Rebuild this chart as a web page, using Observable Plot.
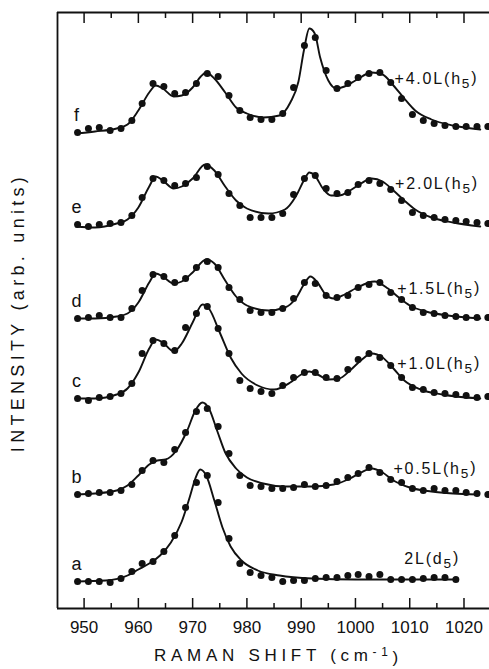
<!DOCTYPE html>
<html><head><meta charset="utf-8">
<script src="https://cdn.jsdelivr.net/npm/d3@7"></script>
<script src="https://cdn.jsdelivr.net/npm/@observablehq/plot@0.6"></script>
<style>html,body{margin:0;padding:0;background:#fff} svg{display:block}</style>
</head><body><div id="chart"></div>
<script>
// ---- data (intensity in arbitrary units, traces stacked) ----
const traces = ["a", "b", "c", "d", "e", "f"];

// measured-point positions (cm^-1), shared by all spectra
const dotX = [948.8, 950.8, 952.8, 954.8, 956.8, 958.8, 960.7, 962.7, 964.7, 966.7,
  968.7, 970.7, 972.7, 974.7, 976.7, 978.7, 980.6, 982.6, 984.6, 986.6,
  988.6, 990.6, 992.6, 994.6, 996.6, 998.6, 1000.5, 1002.5, 1004.5, 1006.5,
  1008.5, 1010.5, 1012.5, 1014.5, 1016.5, 1018.5, 1020.4, 1022.4, 1024.4];

const dotsA = [27, 27, 27, 26, 30, 37, 45, 47, 57, 73, 101, 126, 133, 106, 70, 45, 36, 33, 31, 27,
  28, 28, 30, 31, 31, 33, 34, 32, 34, 29, 29, 29, 30, 31, 31, 29];
const dotsB = [114, 115, 116, 116, 118, 124, 138, 148, 146, 159, 176, 197, 200, 182, 155, 133, 123, 122, 120, 120,
  121, 124, 122, 123, 127, 131, 135, 141, 136, 129, 126, 120, 118, 120, 118, 118, 116, 115, 114];
const dotsC = [210, 208, 211, 212, 215, 225, 255, 268, 265, 258, 281, 295, 302, 280, 255, 228, 220, 217, 215, 223,
  231, 236, 236, 231, 230, 239, 249, 255, 251, 243, 231, 221, 219, 216, 215, 214, 213, 211, 212];
const dotsD = [290, 291, 293, 291, 291, 300, 318, 334, 332, 326, 330, 341, 347, 341, 321, 309, 298, 296, 296, 300,
  310, 326, 325, 313, 311, 313, 321, 324, 326, 316, 309, 301, 296, 295, 293, 292, 291, 291, 291];
const dotsE = [384, 382, 384, 385, 386, 393, 411, 430, 428, 423, 425, 431, 442, 434, 415, 403, 391, 391, 391, 395,
  414, 430, 433, 420, 415, 416, 424, 428, 425, 419, 408, 396, 393, 391, 389, 388, 387, 386, 385];
const dotsF = [476, 480, 481, 478, 480, 488, 505, 525, 522, 515, 516, 525, 535, 532, 513, 498, 491, 489, 489, 495,
  521, 563, 571, 538, 520, 525, 531, 535, 536, 526, 510, 494, 488, 485, 483, 482, 482, 482, 482];

// fitted curves, read at points along each line
const fitA_x = [948.5, 954, 958, 960, 962, 964, 966, 968, 969.5, 970.5, 971.4, 972.5, 974, 975.5, 977, 979, 982, 986, 992, 1000, 1018.8];
const fitA_y = [27, 28, 33, 39, 45, 53, 66, 87, 112, 130, 139, 133, 108, 81, 62, 48, 38, 33, 30, 29, 29];
const fitB_x = [948.5, 952, 956, 958, 960, 962, 963.5, 965, 967, 969, 970.5, 971.8, 973, 974.5, 976, 978, 980, 983, 987, 992, 996, 999, 1001, 1003, 1005, 1007, 1010, 1014, 1018, 1022.4];
const fitB_y = [114, 115, 118, 123, 133, 144, 148, 149, 158, 178, 198, 206, 200, 178, 156, 140, 131, 125, 122, 122, 124, 130, 136, 140, 136, 128, 121, 117, 115, 114];
const fitC_x = [948.5, 952, 956, 958, 960, 962, 963.2, 964.5, 966.5, 968, 970, 971.8, 973, 975, 977, 979, 982, 985, 988, 990, 991.5, 993, 995, 997, 999, 1001, 1003, 1005, 1007, 1009, 1012, 1016, 1023];
const fitC_y = [210, 210, 214, 220, 236, 260, 269, 266, 257, 265, 286, 304, 300, 276, 251, 235, 223, 219, 226, 234, 237, 234, 229, 230, 238, 248, 255, 251, 240, 228, 219, 214, 210];
const fitD_x = [948.5, 952, 956, 958, 960, 962, 963.2, 964.5, 966.5, 968, 970, 972.5, 974, 976, 978, 980, 984, 987, 989, 990.5, 991.7, 993, 994.5, 996, 998, 1000, 1003.5, 1006, 1008, 1010, 1013, 1017, 1023];
const fitD_y = [290, 290, 292, 295, 306, 326, 335, 332, 325, 327, 336, 349, 345, 328, 312, 303, 298, 301, 310, 324, 332, 326, 314, 310, 314, 320, 327, 320, 311, 303, 297, 293, 290];
const fitE_x = [948.5, 952, 956, 958, 960, 962, 963.2, 964.5, 966.5, 968, 970, 972.3, 974, 976, 978, 980, 984, 987, 989, 990.5, 991.5, 992.5, 994, 995.5, 997, 999, 1001, 1003, 1005, 1007, 1009, 1011, 1014, 1018, 1023];
const fitE_y = [382, 381, 385, 389, 401, 422, 432, 428, 420, 422, 430, 444, 438, 422, 408, 400, 395, 399, 412, 428, 436, 433, 420, 413, 413, 418, 425, 430, 427, 418, 408, 399, 391, 386, 382];
const fitF_x = [948.5, 952, 956, 958, 960, 962, 963.2, 964.5, 966.5, 968, 970, 971.5, 972.5, 974, 976, 978, 980, 983, 986, 988, 989.5, 990.5, 991.5, 992.5, 993.5, 995, 996.5, 998, 1000, 1003, 1005, 1007, 1009, 1011, 1014, 1018, 1023];
const fitF_y = [475, 477, 480, 484, 498, 516, 523, 520, 512, 513, 521, 532, 536, 530, 516, 501, 495, 491, 493, 506, 527, 558, 580, 575, 551, 528, 520, 522, 528, 536, 534, 523, 510, 498, 489, 483, 479];

// annotations
const doseText = ["2L(d5)", "+0.5L(h5)", "+1.0L(h5)", "+1.5L(h5)", "+2.0L(h5)", "+4.0L(h5)"];
const doseX = [1009.0, 1007.0, 1007.7, 1007.7, 1007.3, 1007.2];
const doseY = [44.7, 134.7, 239.7, 314.7, 419.7, 524.7];

const xTicks = [950, 960, 970, 980, 990, 1000, 1010, 1020];
const xMinorTicks = [955, 965, 975, 985, 995, 1005, 1015];
const xDomain = [945.1, 1024.7];
const yDomain = [0, 596];
const xLabel = "RAMAN SHIFT (cm-1)";
const yLabel = "INTENSITY (arb. units)";

// ---- build tables ----
const dotSeries = [dotsA, dotsB, dotsC, dotsD, dotsE, dotsF];
const fitXs = [fitA_x, fitB_x, fitC_x, fitD_x, fitE_x, fitF_x];
const fitYs = [fitA_y, fitB_y, fitC_y, fitD_y, fitE_y, fitF_y];
const dots = traces.flatMap((t, i) => dotSeries[i].map((v, k) => ({trace: t, x: dotX[k], y: v})));
const fits = traces.flatMap((t, i) => fitXs[i].map((x, k) => ({trace: t, x, y: fitYs[i][k]})));
const letters = traces.map((t, i) => ({text: t, x: dotX[0], y: dotSeries[i][0]}));
const doses = traces.map((t, i) => ({text: doseText[i], x: doseX[i], y: doseY[i]}));

const ink = "#111";
const font = "'Liberation Sans', Arial, sans-serif";

const chart = Plot.plot({
  width: 489,
  height: 669,
  marginLeft: 57,
  marginRight: 0,
  marginTop: 12,
  marginBottom: 61,
  x: {domain: xDomain},
  y: {domain: yDomain, axis: null},
  style: {fontFamily: font, fontSize: "17px", color: ink, background: "#fff"},
  marks: [
    Plot.ruleY([yDomain[0]], {stroke: ink, strokeWidth: 1.8}),
    Plot.ruleY([yDomain[1]], {stroke: ink, strokeWidth: 1.8}),
    Plot.ruleX([xDomain[0]], {stroke: ink, strokeWidth: 1.8}),
    Plot.tickX(xTicks, {x: d => d, insetTop: 586, stroke: ink, strokeWidth: 1.5}),
    Plot.tickX(xMinorTicks, {x: d => d, insetTop: 591, stroke: ink, strokeWidth: 1.5}),
    Plot.tickX(xTicks, {x: d => d, insetBottom: 585, stroke: ink, strokeWidth: 1.5}),
    Plot.tickX(xMinorTicks, {x: d => d, insetBottom: 590, stroke: ink, strokeWidth: 1.5}),
    Plot.axisX({ticks: xTicks, tickSize: 0, tickPadding: 12, tickFormat: "d", label: null, fontSize: 17}),
    Plot.line(fits, {x: "x", y: "y", z: "trace", curve: "monotone-x", stroke: ink, strokeWidth: 1.9}),
    Plot.dot(dots, {x: "x", y: "y", r: 3.5, fill: ink}),
    Plot.text(letters, {x: "x", y: "y", text: "text", lineAnchor: "bottom", dy: -12, dx: -1, fontSize: 18, fill: ink}),
    Plot.text(doses, {x: "x", y: "y", text: "text", textAnchor: "start", lineAnchor: "bottom", fontSize: 16, fill: ink}),
    Plot.text([xLabel], {text: d => d, frameAnchor: "bottom", textAnchor: "middle", lineAnchor: "middle", dy: 47, dx: 5, fontSize: 17, fill: ink}),
    Plot.text([yLabel], {text: d => d, frameAnchor: "left", textAnchor: "middle", lineAnchor: "middle", dx: -39, dy: 2, rotate: -90, fontSize: 18, fill: ink})
  ]
});
document.getElementById("chart").appendChild(chart);

// sub/superscripts and letter spacing on real text
d3.select(chart).selectAll("text").each(function () {
  const t = d3.select(this);
  const s = t.text();
  const m = s.match(/^(.*\([hd])5\)$/);
  if (m) {
    t.text(null).style("letter-spacing", "1.8px");
    t.append("tspan").text(m[1]);
    t.append("tspan").attr("dy", "0.3em").attr("font-size", "0.85em").text("5");
    t.append("tspan").attr("dy", "-0.3em").text(")");
  } else if (s === xLabel) {
    t.text(null).style("letter-spacing", "4.7px");
    t.append("tspan").text("RAMAN SHIFT (cm");
    t.append("tspan").attr("dy", "-0.45em").attr("font-size", "0.7em").text("-1");
    t.append("tspan").attr("dy", "0.45em").text(")");
  } else if (s === yLabel) {
    t.style("letter-spacing", "4.3px");
  }
});
</script>
</body></html>
